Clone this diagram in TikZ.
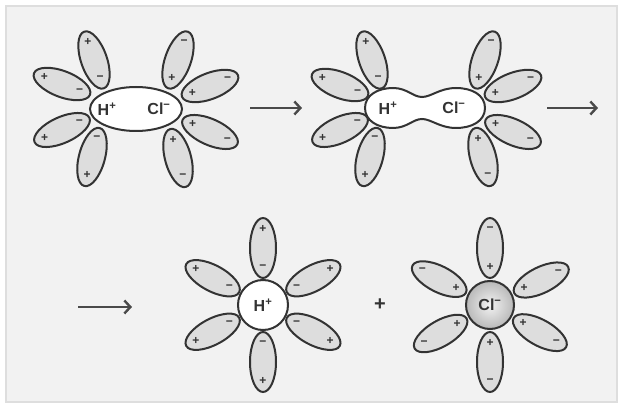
\documentclass[tikz,border=0pt]{standalone}
\usepackage{fontspec}
\setmainfont{Liberation Sans}
\usetikzlibrary{arrows.meta,shapes.geometric}
\definecolor{ink}{HTML}{333333}
\definecolor{panel}{HTML}{F2F2F2}
\definecolor{rim}{HTML}{DEDEDE}
\definecolor{dipfill}{HTML}{DDDDDD}
\definecolor{arrowgray}{HTML}{4A4A4A}
\tikzset{
  dip/.style={draw=ink,line width=2pt,fill=dipfill},
  sgn/.style={inner sep=0pt,text=ink,font=\bfseries\fontsize{12}{12}\selectfont},
  ion/.style={inner sep=0pt,text=ink,font=\bfseries\fontsize{16}{16}\selectfont},
  rxn/.style={draw=arrowgray,line width=2.4pt,-{Straight Barb[length=6pt,width=13pt]}},
}
\newcommand{\dipole}[6]{%
  \begin{scope}[shift={(#2)},rotate=#3]
    \draw[dip] (#4pt,0) ellipse (30pt and 13pt);
    \node[sgn] (#1o) at ({#4+19},0) {#5};
    \node[sgn] (#1i) at ({#4-19},0) {#6};
  \end{scope}}
\begin{document}
\begin{tikzpicture}[x=1pt,y=1pt]
\useasboundingbox (0,0) rectangle (624,412);
\fill[white] (0,0) rectangle (624,412);
\draw[rim,line width=2pt,fill=panel] (6,10) rectangle (617,406);

\foreach \n/\p/\a in {1/{94,352}/109, 2/{62,328}/159, 3/{62,282}/204, 4/{92,255}/255}
  \dipole{ha\n}{\p}{\a}{0}{+}{−};
\foreach \n/\p/\a in {1/{178,352}/71, 2/{210,326}/21, 3/{210,280}/-24, 4/{178,254}/-75}
  \dipole{ca\n}{\p}{\a}{0}{−}{+};
\node[ellipse,draw=ink,line width=2pt,fill=white,minimum width=92pt,minimum height=44pt] (pair) at (136,303) {};
\node[ion] (h1) at (107,303) {H\textsuperscript{+}};
\node[ion] (cl1) at (159,303) {Cl\textsuperscript{−}};

\foreach \n/\p/\a in {1/{372,352}/109, 2/{340,327}/159, 3/{340,282}/204, 4/{370,255}/255}
  \dipole{hb\n}{\p}{\a}{0}{+}{−};
\foreach \n/\p/\a in {1/{485,352}/71, 2/{513,326}/21, 3/{513,280}/-24, 4/{483,255}/-75}
  \dipole{cb\n}{\p}{\a}{0}{−}{+};
\draw[ink,line width=2pt,fill=white] (365,304)
  .. controls (365,317) and (378,324) .. (393,324)
  .. controls (407,324) and (413,315) .. (422,315)
  .. controls (431,315) and (440,324) .. (456,324)
  .. controls (472,324) and (485,317) .. (485,304)
  .. controls (485,291) and (472,284) .. (456,284)
  .. controls (440,284) and (431,293) .. (422,293)
  .. controls (413,293) and (407,284) .. (393,284)
  .. controls (378,284) and (365,291) .. (365,304) -- cycle;
\node[ion] (h2) at (388,304) {H\textsuperscript{+}};
\node[ion] (cl2) at (454,304) {Cl\textsuperscript{−}};

\foreach \a [count=\i] in {90,28,-28,-90,208,152}
  \dipole{hw\i}{263,107}{\a}{57}{+}{−};
\foreach \a [count=\i] in {90,26,-29,-90,210,153}
  \dipole{cw\i}{490,107}{\a}{57}{−}{+};
\node[ion,circle,draw=ink,line width=2pt,fill=white,minimum size=50pt] (h3) at (263,107) {H\textsuperscript{+}};
\node[ion,circle,draw=ink,line width=2pt,inner color=gray!10,outer color=gray!55,minimum size=48pt] (cl3) at (490,107) {Cl\textsuperscript{−}};

\node[text=ink,font=\bfseries\fontsize{20}{20}\selectfont] (plus) at (380,107) {+};

\coordinate (a1s) at (250,304);
\coordinate (a1e) at (302,304);
\coordinate (a2s) at (547,304);
\coordinate (a2e) at (598,304);
\coordinate (a3s) at (78,105);
\coordinate (a3e) at (132,105);
\draw[rxn] (a1s) -- (a1e);
\draw[rxn] (a2s) -- (a2e);
\draw[rxn] (a3s) -- (a3e);
\end{tikzpicture}
\end{document}
